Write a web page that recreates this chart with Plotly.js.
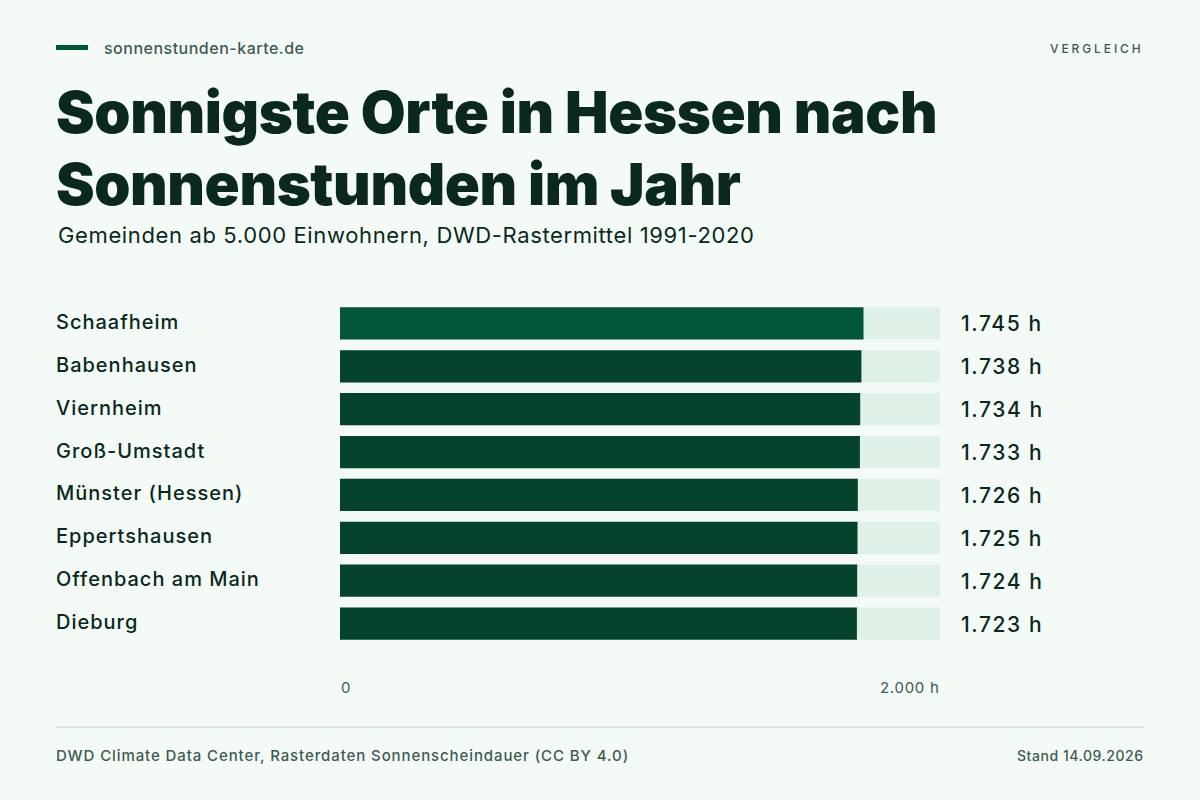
<!DOCTYPE html>
<html><head><meta charset="utf-8">
<script src="https://cdn.plot.ly/plotly-3.0.1.min.js"></script>
<style>html,body{margin:0;padding:0;background:#f4fbf7;overflow:hidden}</style></head>
<body><div id="chart" style="width:1200px;height:800px"></div>
<script>
const categories = ["Schaafheim","Babenhausen","Viernheim","Groß-Umstadt","Münster (Hessen)","Eppertshausen","Offenbach am Main","Dieburg"];
const hours = [1745,1738,1734,1733,1726,1725,1724,1723];
const valueLabels = ["1.745 h","1.738 h","1.734 h","1.733 h","1.726 h","1.725 h","1.724 h","1.723 h"];
const trackMax = [2000,2000,2000,2000,2000,2000,2000,2000];
const barColors = ["#00553a","#05432e","#05432e","#05432e","#05432e","#05432e","#05432e","#05432e"];
const titleLines = ["Sonnigste Orte in Hessen nach","Sonnenstunden im Jahr"];
const subtitle = "Gemeinden ab 5.000 Einwohnern, DWD-Rastermittel 1991-2020";
const brand = "sonnenstunden-karte.de";
const tag = "VERGLEICH";
const source = "DWD Climate Data Center, Rasterdaten Sonnenscheindauer (CC BY 4.0)";
const stand = "Stand 14.09.2026";
const axisLabels = ["0","2.000 h"];

const F = "Inter, sans-serif";
const W = 1200, H = 800, mL = 340, mR = 260, mT = 302, mB = 155;
const px = x => (x - mL) / (W - mL - mR);
const py = y => 1 - (y - mT) / (H - mT - mB);
const dark = "#0a2820", mid = "#3f5a52";
const ls = (t, s) => `<span style="letter-spacing:${s}px">${t}</span>`;

function pageText(text, x, y, size, color, anchor, weight) {
  return {text, x: px(x), y: py(y), xref: "paper", yref: "paper", xanchor: anchor || "left", yanchor: "middle",
    showarrow: false, align: anchor || "left", font: {family: F, size, color, weight: weight || 400}, borderpad: 0, borderwidth: 0};
}
const annotations = [
  pageText(ls(brand, 0.5), 104, 48.5, 16, mid, "left", 500),
  pageText(ls(tag, 2.9), 1144, 48.5, 12, mid, "right", 500),
  pageText(ls(titleLines[0], -0.36), 56, 112, 58, dark, "left", 900),
  pageText(ls(titleLines[1], -0.4), 56, 184, 58, dark, "left", 900),
  pageText(ls(subtitle, 0.63), 58, 234.5, 22, dark),
  pageText(ls(source, 0.9), 56, 755, 15, mid, "left", 500),
  pageText(ls(stand, 0.55), 1144, 755.5, 14, mid, "right", 500),
  {text: axisLabels[0], x: 0, xref: "x", y: py(687), yref: "paper", xanchor: "left", yanchor: "middle", showarrow: false, font: {family: F, size: 15, color: mid}, borderpad: 0},
  {text: ls(axisLabels[1], 0.7), x: trackMax[0], xref: "x", y: py(687), yref: "paper", xanchor: "right", yanchor: "middle", showarrow: false, font: {family: F, size: 15, color: mid}, borderpad: 0}
];
categories.forEach((c, i) => {
  annotations.push({text: ls(c, 1), x: px(55), xref: "paper", y: i, yref: "y", yshift: 1.5, xanchor: "left", yanchor: "middle", showarrow: false, font: {family: F, size: 20, color: dark, weight: 500}, borderpad: 0});
  annotations.push({text: ls(valueLabels[i], 1.6), x: px(960), xref: "paper", y: i, yref: "y", yshift: -0.5, xanchor: "left", yanchor: "middle", showarrow: false, font: {family: F, size: 21, color: dark, weight: 500}, borderpad: 0});
});
const ypos = categories.map((c, i) => i);
const data = [
  {type: "bar", orientation: "h", y: ypos, x: trackMax, marker: {color: "#e0f1e7", line: {width: 0}}, hoverinfo: "skip"},
  {type: "bar", orientation: "h", y: ypos, x: hours, marker: {color: barColors, line: {width: 0}}, text: categories, textposition: "none", hoverinfo: "text+x"}
];
const layout = {
  width: W, height: H, paper_bgcolor: "#f4fbf7", plot_bgcolor: "#f4fbf7",
  margin: {l: mL, r: mR, t: mT, b: mB, pad: 0}, barmode: "overlay", bargap: 0.245, showlegend: false,
  xaxis: {range: [0, 2000], visible: false, fixedrange: true},
  yaxis: {range: [7.5, -0.5], visible: false, fixedrange: true},
  annotations,
  shapes: [
    {type: "rect", xref: "paper", yref: "paper", x0: px(56), x1: px(88), y0: py(45), y1: py(50), fillcolor: "#00553a", line: {width: 0}},
    {type: "line", xref: "paper", yref: "paper", x0: px(56), x1: px(1144), y0: py(727), y1: py(727), line: {color: "#dbe4df", width: 2}}
  ]
};
Plotly.newPlot("chart", data, layout, {displayModeBar: false, staticPlot: true});
</script></body></html>
